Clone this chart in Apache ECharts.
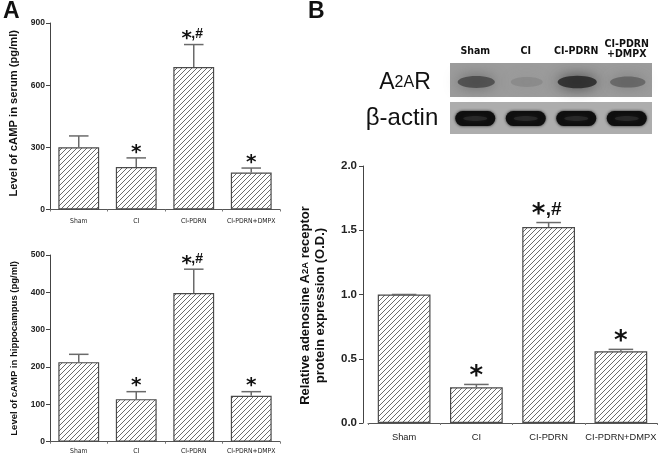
<!DOCTYPE html>
<html>
<head>
<meta charset="utf-8">
<script src="https://cdn.jsdelivr.net/npm/echarts@6/dist/echarts.min.js"></script>
<style>
  html, body { margin: 0; padding: 0; background: #fff; }
  #chart { width: 662px; height: 458px; }
</style>
</head>
<body>
<div id="chart"></div>
<script>
// groups
const categories = ['Sham', 'CI', 'CI-PDRN', 'CI-PDRN+DMPX'];
const marks = ['', '*', '*,#', '*'];

// A top: cAMP in serum (pg/ml)
const serumMean = [300, 205, 688, 178];
const serumSem = [55, 44, 108, 22];
const serumTicks = [0, 300, 600, 900];

// A bottom: cAMP in hippocampus (pg/ml)
const hippoMean = [213, 114, 398, 123];
const hippoSem = [21, 20, 64, 11];
const hippoTicks = [0, 100, 200, 300, 400, 500];

// B: relative A2A receptor expression (O.D.)
const a2arMean = [1.0, 0.278, 1.525, 0.558];
const a2arSem = [0, 0.022, 0.035, 0.015];
const a2arTicks = [0, 0.5, 1.0, 1.5, 2.0];

// blot lanes (band darkness 0..1)
const blotLanes = ['Sham', 'CI', 'CI-PDRN', 'CI-PDRN\n+DMPX'];
const a2arBand = [0.72, 0.2, 0.92, 0.55];
const actinBand = [1, 1, 1, 1];

const SANS = "'Liberation Sans', Arial, sans-serif";
const NARROW = "'Liberation Sans Narrow', 'DejaVu Sans Condensed', Arial, sans-serif";

function hatch() {
    const c = document.createElement('canvas');
    c.width = 5; c.height = 5;
    const ctx = c.getContext('2d');
    ctx.strokeStyle = '#5a5a5a';
    ctx.lineWidth = 0.9;
    ctx.beginPath();
    ctx.moveTo(0, 5); ctx.lineTo(5, 0);
    ctx.moveTo(-1, 1); ctx.lineTo(1, -1);
    ctx.moveTo(4, 6); ctx.lineTo(6, 4);
    ctx.stroke();
    return c;
}
const pattern = { image: hatch(), repeat: 'repeat' };

function errSeries(idx, mean, sem, big) {
    const starFont = 'bold ' + (big ? 26 : 20) + "px 'DejaVu Sans'";
    const hashFont = 'bold ' + (big ? 19 : 14) + 'px ' + SANS;
    const starDy = big ? 7 : 5.5;     // star anchor above error cap
    const hashDy = big ? 13 : 10;     // '#' centre above error cap
    const shift = big ? 10 : 7;       // star left of bar centre when followed by '#'
    return {
        type: 'custom',
        xAxisIndex: idx,
        yAxisIndex: idx,
        z: 5,
        data: mean.map((m, i) => [i, m, m + sem[i]]),
        renderItem: function (params, api) {
            const x = api.value(0);
            const lo = api.coord([x, api.value(1)]);
            const hi = api.coord([x, api.value(2)]);
            const half = api.size([1, 0])[0] * 0.17;
            const st = { stroke: '#6a6a6a', lineWidth: 1.5 };
            const mk = marks[params.dataIndex];
            const kids = [
                { type: 'line', shape: { x1: lo[0], y1: lo[1], x2: hi[0], y2: hi[1] }, style: st },
                { type: 'line', shape: { x1: hi[0] - half, y1: hi[1], x2: hi[0] + half, y2: hi[1] }, style: st }
            ];
            if (mk) {
                const sx = mk.length > 1 ? hi[0] - shift : hi[0];
                kids.push({
                    type: 'text',
                    style: { x: sx, y: hi[1] - starDy, text: '*', font: starFont, fill: '#111',
                             align: 'center', verticalAlign: 'middle' }
                });
                if (mk.length > 1) {
                    kids.push({
                        type: 'text',
                        style: { x: sx + (big ? 7 : 4.5), y: hi[1] - hashDy, text: mk.slice(1), font: hashFont,
                                 fill: '#111', align: 'left', verticalAlign: 'middle' }
                    });
                }
            }
            return { type: 'group', children: kids };
        }
    };
}

function barSeries(idx, mean, width) {
    return {
        type: 'bar',
        xAxisIndex: idx,
        yAxisIndex: idx,
        barWidth: width,
        data: mean,
        itemStyle: { color: pattern, borderColor: '#4a4a4a', borderWidth: 1.2 },
        emphasis: { disabled: true },
        z: 2
    };
}

function xAx(idx, fontSize, family, margin, weight) {
    return {
        type: 'category',
        gridIndex: idx,
        data: categories,
        axisLine: { lineStyle: { color: '#555', width: 1 } },
        axisTick: { show: true, length: 2, lineStyle: { color: '#777' } },
        axisLabel: { color: '#222', fontSize: fontSize, fontFamily: family, fontWeight: weight,
                     margin: margin, interval: 0 }
    };
}

function yAx(idx, ticks, name, o) {
    return Object.assign({
        type: 'value',
        gridIndex: idx,
        min: ticks[0],
        max: ticks[ticks.length - 1],
        interval: ticks[1] - ticks[0],
        splitLine: { show: false },
        axisLine: { show: true, lineStyle: { color: '#444', width: 1 } },
        axisTick: { show: true, length: 4, lineStyle: { color: '#444' } },
        name: name,
        nameLocation: 'middle',
        nameRotate: 90
    }, o);
}

const chart = echarts.init(document.getElementById('chart'), null, { renderer: 'canvas' });

const option = {
    animation: false,
    backgroundColor: '#fff',
    grid: [
        { left: 50, top: 23, width: 230, height: 186.5 },
        { left: 50, top: 255, width: 230, height: 186.7 },
        { left: 368, top: 166, width: 289, height: 257 }
    ],
    xAxis: [
        xAx(0, 6.8, NARROW, 8, 'normal'),
        xAx(1, 6.8, NARROW, 6.5, 'normal'),
        xAx(2, 9.3, SANS, 10, 'normal')
    ],
    yAxis: [
        yAx(0, serumTicks, 'Level of cAMP in serum (pg/ml)', {
            nameGap: 31,
            nameTextStyle: { fontSize: 11.2, fontWeight: 'bold', fontFamily: SANS, color: '#111',
                             padding: [0, 0, 0, 6] },
            axisLabel: { fontSize: 8.5, fontWeight: 'bold', fontFamily: SANS, color: '#222', margin: 5 }
        }),
        yAx(1, hippoTicks, 'Level of cAMP in hippocampus (pg/ml)', {
            nameGap: 31,
            nameTextStyle: { fontSize: 9.5, fontWeight: 'bold', fontFamily: SANS, color: '#111' },
            axisLabel: { fontSize: 8.5, fontWeight: 'bold', fontFamily: SANS, color: '#222', margin: 5 }
        }),
        yAx(2, a2arTicks, 'Relative adenosine A{sub|2A} receptor\nprotein expression (O.D.)', {
            offset: 5,
            nameGap: 35,
            nameTextStyle: {
                fontSize: 13, fontWeight: 'bold', fontFamily: SANS, color: '#111', lineHeight: 15,
                padding: [0, 22, 0, 0],
                rich: { sub: { fontSize: 9.5, fontWeight: 'bold', fontFamily: SANS, color: '#111' } }
            },
            axisLabel: {
                fontSize: 11.5, fontWeight: 'bold', fontFamily: SANS, color: '#222', margin: 6,
                formatter: v => v.toFixed(1)
            }
        })
    ],
    series: [
        barSeries(0, serumMean, '71%'),
        errSeries(0, serumMean, serumSem, false),
        barSeries(1, hippoMean, '71%'),
        errSeries(1, hippoMean, hippoSem, false),
        barSeries(2, a2arMean, '73%'),
        errSeries(2, a2arMean, a2arSem, true)
    ],
    graphic: []
};

// panel letters
option.graphic.push(
    { type: 'text', left: 3, top: 0, style: { text: 'A', font: 'bold 23px ' + SANS, fill: '#111' } },
    { type: 'text', left: 308, top: 0, style: { text: 'B', font: 'bold 23px ' + SANS, fill: '#111' } }
);

// western blot panel
const box = { x: 450, w: 202, y1: 63, h1: 34, y2: 102, h2: 32 };
const laneW = box.w / blotLanes.length;
option.graphic.push(
    { type: 'rect', shape: { x: box.x, y: box.y1, width: box.w, height: box.h1 }, style: { fill: '#9c9c9c' } },
    { type: 'rect', shape: { x: box.x, y: box.y2, width: box.w, height: box.h2 }, style: { fill: '#adadad' } },
    { type: 'text', x: 405, y: 83, style: {
        text: '{a|A}{b|2A}{a|R}', align: 'center', verticalAlign: 'middle',
        rich: { a: { font: '23px ' + SANS, fill: '#111' }, b: { font: '16px ' + SANS, fill: '#111' } } } },
    { type: 'text', x: 402, y: 118, style: {
        text: 'β-actin', align: 'center', verticalAlign: 'middle', font: '24px ' + SANS, fill: '#111' } }
);
blotLanes.forEach((lab, i) => {
    const cx = box.x + laneW * (i + 0.5);
    option.graphic.push({
        type: 'text', x: cx, y: lab.indexOf('\n') > 0 ? 49 : 51,
        style: { text: lab, align: 'center', verticalAlign: 'middle', font: 'bold 10.5px ' + NARROW,
                 fill: '#111', lineHeight: 10 }
    });
    const d = a2arBand[i];
    const g = Math.round(140 - 110 * d);
    const col = 'rgba(' + g + ',' + g + ',' + g + ',' + (0.3 + 0.6 * d) + ')';
    option.graphic.push({
        type: 'ellipse', shape: { cx: cx + 1, cy: 82, rx: 15 + 5 * d, ry: 4.5 + 2 * d },
        style: { fill: col, shadowBlur: 14, shadowColor: col }
    });
    const a = actinBand[i];
    option.graphic.push({
        type: 'rect', shape: { x: cx - 20, y: 111, width: 40, height: 15, r: 7.5 },
        style: { fill: 'rgba(15,15,15,' + a + ')', shadowBlur: 3, shadowColor: '#222' }
    });
    option.graphic.push({
        type: 'ellipse', shape: { cx: cx, cy: 118.5, rx: 12, ry: 2.5 },
        style: { fill: 'rgba(60,60,60,0.5)', shadowBlur: 4, shadowColor: 'rgba(60,60,60,0.5)' }
    });
});

chart.setOption(option);
</script>
</body>
</html>
